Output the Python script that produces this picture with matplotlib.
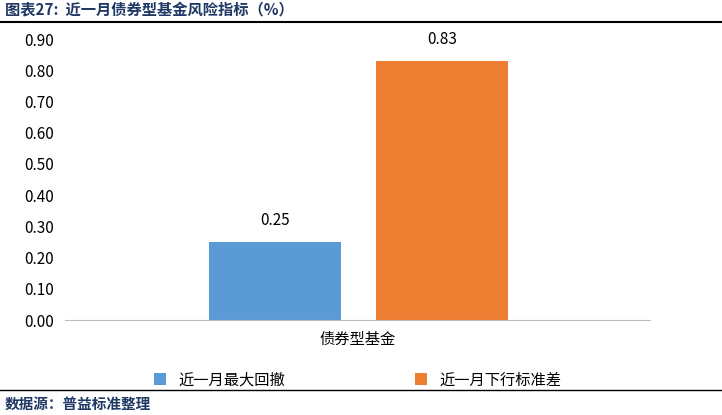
import matplotlib
matplotlib.use("Agg")
import matplotlib.pyplot as plt
from matplotlib.lines import Line2D

plt.rcParams['font.family'] = ['Noto Sans CJK SC', 'DejaVu Sans']

categories = ["债券型基金"]
series_names = ["近一月最大回撤", "近一月下行标准差"]
values = [0.25, 0.83]
colors = ["#5B9BD5", "#ED7D31"]
yticks = [0.0, 0.1, 0.2, 0.3, 0.4, 0.5, 0.6, 0.7, 0.8, 0.9]

fig = plt.figure(figsize=(7.22, 4.15), dpi=100)
ax = fig.add_axes([65/722, 1-320/415, 585/722, 281/415])
offsets = [-0.141, 0.144]
w = 0.226
for i, (n, v, c) in enumerate(zip(series_names, values, colors)):
    ax.bar(offsets[i], v, width=w, color=c, label=n)
    ax.text(offsets[i], v + 0.04, f"{v:.2f}", ha='center', va='bottom', fontsize=11)
ax.set_xlim(-0.5, 0.5)
ax.set_ylim(0, 0.9)
ax.set_yticks(yticks)
ax.set_yticklabels([f"{t:.2f}" for t in yticks], fontsize=11)
ax.set_xticks([0])
ax.set_xticklabels(categories, fontsize=11)
ax.tick_params(length=0, pad=8)
for s in ['top', 'right', 'left']:
    ax.spines[s].set_visible(False)
ax.spines['bottom'].set_color('#BFBFBF')

leg = fig.legend(loc='center', bbox_to_anchor=(0.495, 1-380/415), ncol=2, frameon=False,
                 fontsize=11, handlelength=0.8, handleheight=0.8, columnspacing=8.5)

fig.text(5/722, 1-10/415, "图表27:  近一月债券型基金风险指标（%）", fontsize=11, fontweight='bold',
         color='#1F3864', va='center')
fig.add_artist(Line2D([0, 1], [1-22/415, 1-22/415], color='black', lw=1.5))
fig.add_artist(Line2D([0, 1], [1-390/415, 1-390/415], color='black', lw=1))
fig.text(5/722, 1-404/415, "数据源：普益标准整理", fontsize=10.5, fontweight='bold',
         color='#1F3864', va='center')
fig.savefig("out.png", dpi=100)
